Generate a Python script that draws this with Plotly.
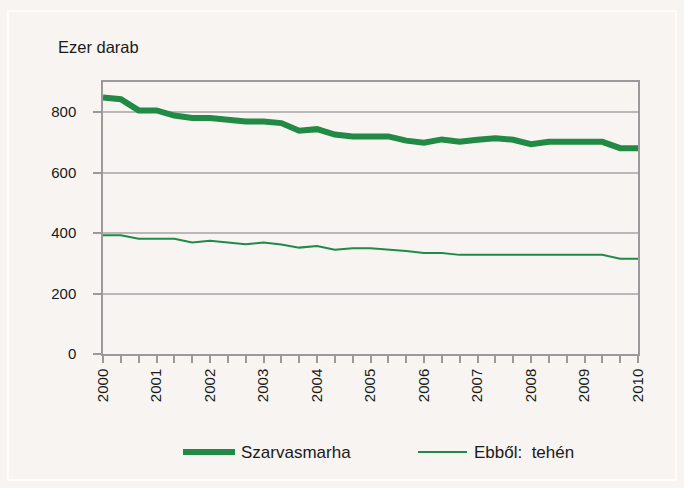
import plotly.graph_objects as go

# Survey dates: three counts per year (every four months), 2000 .. 2010
periods = [2000 + k / 3 for k in range(31)]
year_labels = [str(y) for y in range(2000, 2011)]

szarvasmarha = [849, 843, 806, 806, 789, 781, 781, 776, 769, 769, 764, 739, 744, 726, 720,
                720, 720, 706, 699, 710, 702, 709, 714, 709, 694, 702, 702, 702, 702, 681, 681]
teheny = [393, 393, 381, 381, 381, 369, 375, 369, 363, 369, 362, 352, 357, 345, 350,
          350, 346, 341, 334, 334, 328, 328, 328, 328, 328, 328, 328, 328, 328, 315, 315]

series_names = ["Szarvasmarha", "Ebből:  tehén"]
y_unit = "Ezer darab"

GREEN = "#218a45"
BG = "#f7f4f1"
GRID = "#b8b8b8"
AXIS = "#9a9a9c"
FONT = "Liberation Sans Narrow, Arial Narrow, Liberation Sans, Arial, sans-serif"

W, H = 684, 488
ML, MR, MT, MB = 103, 46, 82, 134
PW, PH = W - ML - MR, H - MT - MB

def px(x):
    return (x - ML) / PW

def py(y):
    return (H - MB - y) / PH

fig = go.Figure()
fig.add_trace(go.Scatter(x=periods, y=szarvasmarha, mode="lines", name=series_names[0],
                         line=dict(color=GREEN, width=6)))
fig.add_trace(go.Scatter(x=periods, y=teheny, mode="lines", name=series_names[1],
                         line=dict(color=GREEN, width=2)))

tickvals = periods
ticktext = []
for v in periods:
    if abs(v - round(v)) < 1e-6:
        ticktext.append(year_labels[int(round(v)) - 2000])
    else:
        ticktext.append("")

# legend drawn as shapes + text so that the sample lines match the reference length
legend_items = [(183, 235, 6, 239), (418, 467, 2, 472)]
shapes = [dict(type="rect", xref="paper", yref="paper", x0=px(8), x1=px(676),
               y0=py(11), y1=py(480), line=dict(color="white", width=1.5),
               fillcolor="rgba(0,0,0,0)", layer="below")]
annotations = [dict(text=y_unit, xref="paper", yref="paper", x=px(56), y=py(47),
                    xanchor="left", yanchor="middle", showarrow=False,
                    font=dict(size=16.5))]
for (x0, x1, w, tx), name in zip(legend_items, series_names):
    shapes.append(dict(type="line", xref="paper", yref="paper", x0=px(x0), x1=px(x1),
                       y0=py(452), y1=py(452), line=dict(color=GREEN, width=w)))
    annotations.append(dict(text=name, xref="paper", yref="paper", x=px(tx), y=py(452),
                            xanchor="left", yanchor="middle", showarrow=False,
                            font=dict(size=17)))

fig.update_layout(
    width=W, height=H,
    margin=dict(l=ML, r=MR, t=MT, b=MB),
    paper_bgcolor=BG, plot_bgcolor=BG,
    font=dict(family=FONT, size=15, color="#1a1a1a"),
    showlegend=False,
    xaxis=dict(range=[2000, 2010], tickvals=tickvals, ticktext=ticktext, tickangle=-90,
               ticks="outside", ticklen=7, tickcolor=AXIS, tickwidth=1.5,
               showline=True, linecolor=AXIS, linewidth=1.5, mirror=True,
               showgrid=False, zeroline=False),
    yaxis=dict(range=[0, 900], tickvals=[0, 200, 400, 600, 800],
               ticks="outside", ticklen=8, tickcolor=AXIS, tickwidth=1.5,
               ticklabelstandoff=14,
               showline=True, linecolor=AXIS, linewidth=1.5, mirror=True,
               showgrid=True, gridcolor=GRID, gridwidth=1.5, zeroline=False),
    annotations=annotations,
    shapes=shapes,
)

fig.write_html("out.html",
               config={"displayModeBar": False},
               post_script="document.body.style.margin='0';"
                           "document.body.style.background='" + BG + "';")
